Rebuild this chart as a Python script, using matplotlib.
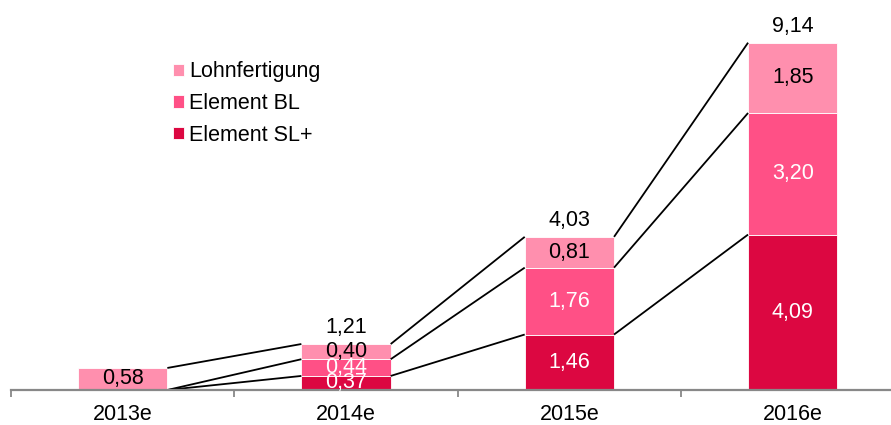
import numpy as np
import matplotlib.pyplot as plt

# Data
years = ['2013e', '2014e', '2015e', '2016e']
series = ['Element SL+', 'Element BL', 'Lohnfertigung']
sl_plus = [0.00, 0.37, 1.46, 4.09]
element_bl = [0.00, 0.44, 1.76, 3.20]
lohn = [0.58, 0.40, 0.81, 1.85]
totals = [0.58, 1.21, 4.03, 9.14]

colors = ['#DC0741', '#FF5086', '#FF8FAE']
text_colors = ['white', 'white', 'black']
fs = 15.5

plt.rcParams['font.family'] = ['Liberation Sans', 'DejaVu Sans']

fig = plt.figure(figsize=(8.91, 4.25), dpi=100)
ax = fig.add_axes([11 / 891, 35 / 425, 880 / 891, 380 / 425])

x = np.arange(len(years))
w = 0.4
values = [sl_plus, element_bl, lohn]
bottom = np.zeros(len(years))
tops = []
bars = []
for vals, c, tc, name in zip(values, colors, text_colors, series):
    vals = np.array(vals)
    b = ax.bar(x, vals, w, bottom=bottom, color=c, edgecolor='white', linewidth=0.6, label=name)
    bars.append(b)
    for xi, v, bt in zip(x, vals, bottom):
        if v > 0:
            ax.text(xi, bt + v / 2, f'{v:.2f}'.replace('.', ','), ha='center', va='center',
                    color=tc, fontsize=fs)
    bottom = bottom + vals
    tops.append(bottom.copy())

# connecting lines between segment tops
for top in tops:
    for i in range(len(years) - 1):
        ax.plot([x[i] + w / 2, x[i + 1] - w / 2], [top[i], top[i + 1]], color='black', lw=1.3,
                solid_capstyle='butt', zorder=1)

# totals (2013e shows just its single segment)
for xi, t in zip(x[1:], totals[1:]):
    ax.annotate(f'{t:.2f}'.replace('.', ','), (xi, t), xytext=(0, 4), textcoords='offset points',
                ha='center', va='bottom', fontsize=fs)

ax.set_xlim(-0.5, 3.44)
ax.set_ylim(0, 10)
ax.set_yticks([])
for s in ['left', 'right', 'top']:
    ax.spines[s].set_visible(False)
ax.spines['bottom'].set_color('#888888')
ax.spines['bottom'].set_linewidth(1.6)

ax.set_xticks(x)
ax.set_xticklabels(years, fontsize=fs)
ax.tick_params(axis='x', which='major', length=0, pad=10)
ax.set_xticks([-0.5, 0.5, 1.5, 2.5], minor=True)
ax.tick_params(axis='x', which='minor', length=5, width=1.3, color='#888888')

handles = [bars[2], bars[1], bars[0]]
leg = ax.legend(handles, ['Lohnfertigung', 'Element BL', 'Element SL+'], loc='upper left',
                bbox_to_anchor=(158 / 880, 1 - 47 / 380), frameon=False, fontsize=fs,
                handlelength=0.5, handleheight=0.5, handletextpad=0.25, labelspacing=0.5,
                borderpad=0.2, borderaxespad=0)

fig.savefig('out.png', dpi=100)
